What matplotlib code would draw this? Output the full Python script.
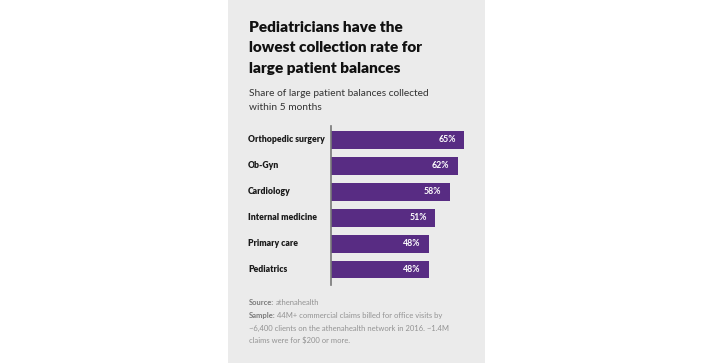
import matplotlib.pyplot as plt
from matplotlib.patches import Rectangle
from matplotlib.transforms import blended_transform_factory

plt.rcParams['font.family'] = ['Lato', 'DejaVu Sans']

categories = ['Orthopedic surgery', 'Ob-Gyn', 'Cardiology', 'Internal medicine',
              'Primary care', 'Pediatrics']
values = [65, 62, 58, 51, 48, 48]
value_labels = ['65%', '62%', '58%', '51%', '48%', '48%']

title_lines = ['Pediatricians have the', 'lowest collection rate for', 'large patient balances']
subtitle_lines = ['Share of large patient balances collected', 'within 5 months']

W, H = 712, 363
fig = plt.figure(figsize=(W / 100, H / 100), dpi=100)
fig.patch.set_facecolor('white')

# gray card behind the chart
fig.patches.append(Rectangle((228 / W, 0), (485 - 228) / W, 1, transform=fig.transFigure,
                             facecolor='#ebebeb', edgecolor='none', zorder=-5))

ax = fig.add_axes([331 / W, 78 / H, 143.2 / W, 159 / H])
ax.set_facecolor('none')
ax.set_zorder(2)
purple = '#582c83'
ypos = list(range(len(categories)))
ax.barh(ypos, values, height=0.69, color=purple)
ax.set_xlim(0, 70)
ax.set_ylim(5.6, -0.54)
for s in ['top', 'right', 'bottom']:
    ax.spines[s].set_visible(False)
ax.spines['left'].set_color('#777777')
ax.spines['left'].set_linewidth(1.2)
ax.set_xticks([])
ax.set_yticks([])

for y, v, lab in zip(ypos, values, value_labels):
    ax.annotate(lab, (v, y), xytext=(-6, 0), textcoords='offset points',
                ha='right', va='center', color='white', fontsize=6.3, fontweight='bold')

tr = blended_transform_factory(fig.transFigure, ax.transData)
for y, c in zip(ypos, categories):
    ax.text(248 / W, y, c, transform=tr, ha='left', va='center',
            fontsize=6.2, fontweight='heavy', color='#1a1a1a')

for i, line in enumerate(title_lines):
    fig.text(249 / W, 1 - (32 + 20.5 * i) / H, line, ha='left', va='baseline',
             fontsize=11.1, fontweight='heavy', color='#111111')
for i, line in enumerate(subtitle_lines):
    fig.text(249 / W, 1 - (96 + 14 * i) / H, line, ha='left', va='baseline',
             fontsize=7.3, color='#333333')

foot_size = 5.5
renderer = fig.canvas.get_renderer()


def foot_line(y_px, bold, rest):
    x = 249 / W
    if bold:
        t = fig.text(x, 1 - y_px / H, bold, ha='left', va='baseline', fontsize=foot_size,
                     fontweight='bold', color='#7a7a7a')
        bb = t.get_window_extent(renderer)
        x = (bb.x1 + 1.5) / W
    fig.text(x, 1 - y_px / H, rest, ha='left', va='baseline', fontsize=foot_size,
             color='#939393')


foot_line(305, 'Source:', 'athenahealth')
foot_line(318, 'Sample:', '44M+ commercial claims billed for office visits by')
foot_line(331, None, '~6,400 clients on the athenahealth network in 2016. ~1.4M')
foot_line(343, None, 'claims were for $200 or more.')

fig.savefig('out.png', dpi=100)
